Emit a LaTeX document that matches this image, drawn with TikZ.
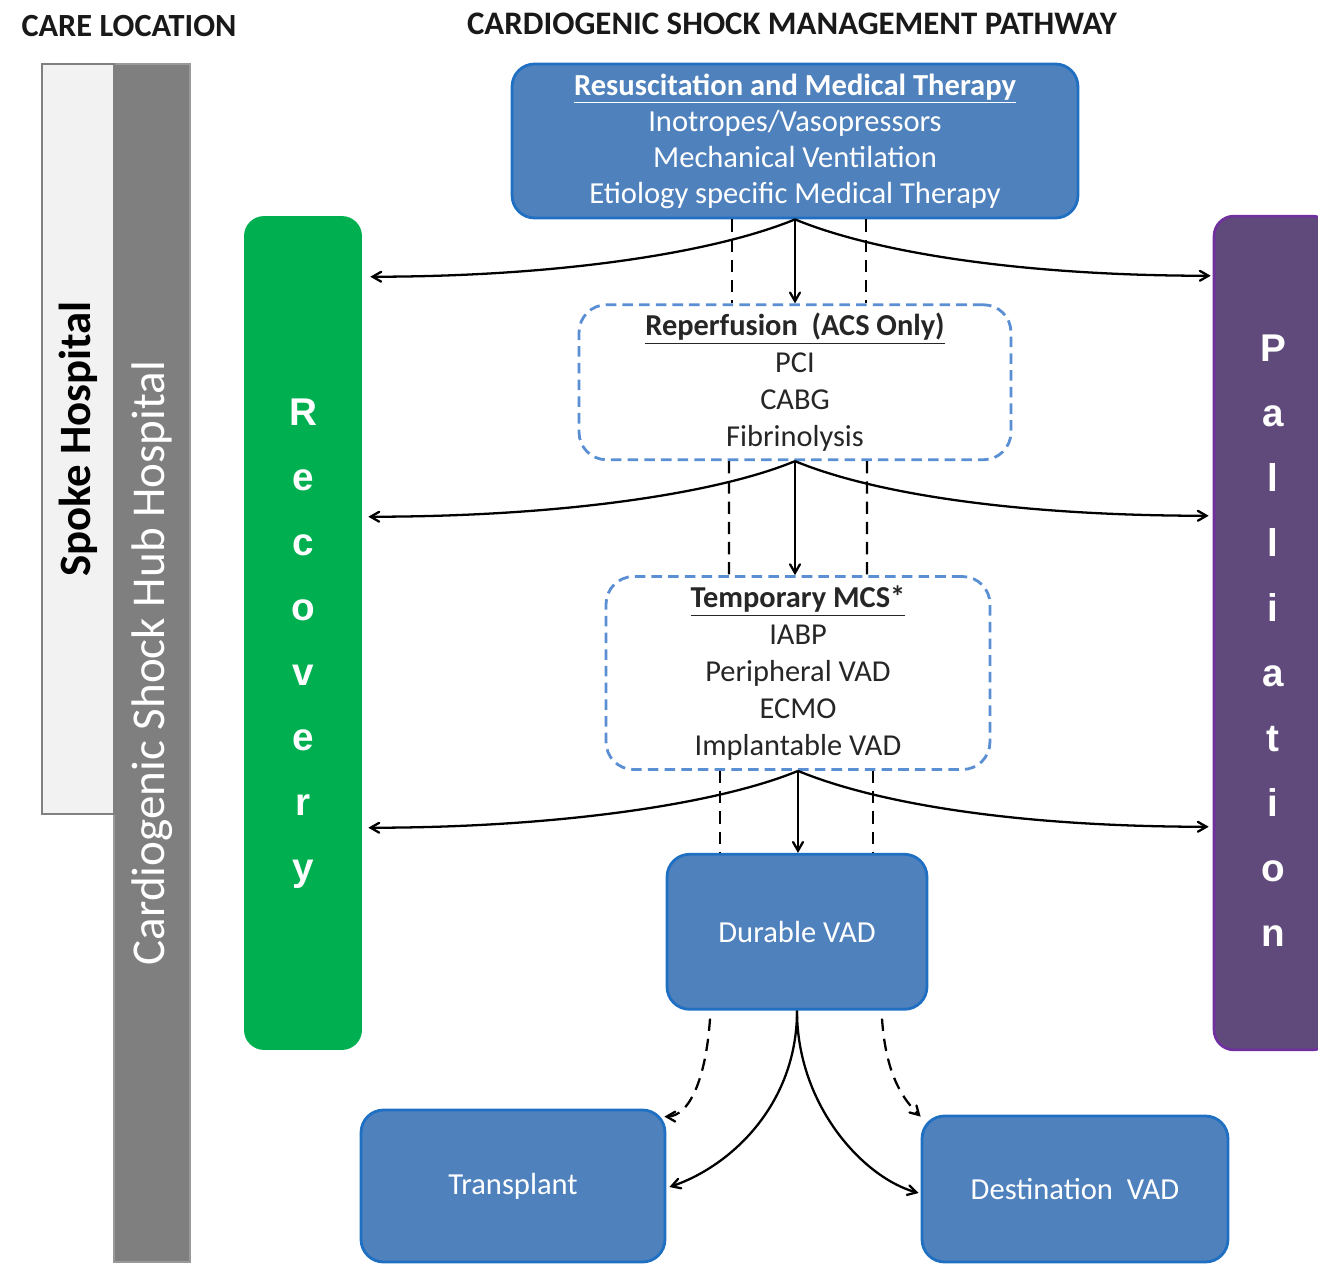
\documentclass[tikz,border=0pt]{standalone}
\usepackage{fontspec}
\setmainfont{Carlito}
\newfontfamily\arialfont{Liberation Sans}
\usepackage{tikz}
\usetikzlibrary{shapes,arrows,calc,positioning}
\definecolor{boxblue}{HTML}{4F81BD}
\definecolor{boxedge}{HTML}{1F6FC2}
\definecolor{dashblue}{HTML}{5B8FD3}
\definecolor{recgreen}{HTML}{00B050}
\definecolor{palpurple}{HTML}{604A7B}
\definecolor{paledge}{HTML}{7030A0}
\definecolor{hubgray}{HTML}{7F7F7F}
\definecolor{spokegray}{HTML}{F2F2F2}
\definecolor{bargray}{HTML}{999999}
\definecolor{darktext}{HTML}{262626}
\tikzstyle{solidbox} = [rectangle, rounded corners=0.45cm, draw=boxedge, line width=1.6pt,
fill=boxblue, text=white, align=center, font=\fontsize{17.4}{20.5}\selectfont]
\tikzstyle{dashbox} = [rectangle, rounded corners=0.55cm, draw=dashblue, line width=1.6pt,
dash pattern=on 6pt off 3.5pt, fill=white, text=darktext, align=center, font=\fontsize{17.3}{21}\selectfont]
\tikzstyle{outcome} = [rectangle, rounded corners=0.4cm, minimum width=2.36cm, minimum height=16.68cm,
text=white, align=center, font=\arialfont\bfseries\fontsize{22}{37}\selectfont]
\tikzstyle{locbar} = [rectangle, rotate=90, line width=1.5pt]
\tikzstyle{heading} = [font=\bfseries\fontsize{18.4}{20}\selectfont, text=black!90]
\tikzstyle{line} = [draw, line width=1.3pt, -angle 60]
\tikzstyle{guide} = [draw, line width=1.3pt, dash pattern=on 7pt off 4.5pt]
\begin{document}
\begin{tikzpicture}[x=0.02cm, y=-0.02cm]
\clip (0,0) rectangle (1318,1264);

% care location bars
\node [locbar, fill=hubgray, draw=bargray, minimum width=23.96cm, minimum height=1.52cm,
text=white, font=\fontsize{26.8}{28}\selectfont] (hub) at (152,663) {Cardiogenic Shock Hub Hospital};
\node [locbar, fill=spokegray, draw=gray, minimum width=15cm, minimum height=1.44cm,
text=black, font=\bfseries\fontsize{25.5}{27}\selectfont] (spoke) at (78,439) {Spoke Hospital};

\node [heading] (carelabel) at (129,26) {CARE LOCATION};
\node [heading, font=\bfseries\fontsize{18.7}{20}\selectfont] (pathlabel) at (792,24) {CARDIOGENIC SHOCK MANAGEMENT PATHWAY};

% pathway
\node [solidbox, minimum width=11.32cm, minimum height=3.08cm] (resus) at (795,141)
{\underline{\textbf{Resuscitation and Medical Therapy}}\\Inotropes/Vasopressors\\Mechanical Ventilation\\Etiology specific Medical Therapy};
\node [dashbox, minimum width=8.64cm, minimum height=3.1cm, below=1.68cm of resus] (reperf)
{\underline{\textbf{Reperfusion\ \ (ACS Only)}}\\PCI\\CABG\\Fibrinolysis};
\node [dashbox, minimum width=7.68cm, minimum height=3.86cm, below=2.28cm of reperf, xshift=0.06cm] (tmcs)
{\underline{\textbf{Temporary MCS*}}\\IABP\\Peripheral VAD\\ECMO\\Implantable VAD};
\node [solidbox, minimum width=5.2cm, minimum height=3.1cm, below=1.64cm of tmcs, xshift=-0.02cm] (durable) {Durable VAD};
\node [solidbox, minimum width=6.08cm, minimum height=3.04cm] (transplant) at (513,1186) {Transplant};
\node [solidbox, minimum width=6.12cm, minimum height=2.92cm] (destvad) at (1075,1189) {Destination\ \ VAD};

% outcomes
\node [outcome, fill=recgreen] (recovery) at (303,633) {\rule{0pt}{0.95cm}R\\e\\c\\o\\v\\e\\r\\y};
\node [outcome, fill=palpurple, draw=paledge, line width=1.5pt] (palliation) at (1273,633) {\rule{0pt}{0.83cm}P\\a\\l\\l\\i\\a\\t\\i\\o\\n};

% connectors
\path [guide] ($(resus.south)+(-63,0)$) -- ($(reperf.north)+(-63,0)$);
\path [guide] ($(resus.south)+(71,0)$) -- ($(reperf.north)+(71,0)$);
\path [line] (resus.south) -- (resus.south |- reperf.north);
\path [line] (resus.south) .. controls +(-80,33) and +(190,0) .. ($(recovery.north east)+(8,61)$);
\path [line] (resus.south) .. controls +(80,33) and +(-190,0) .. ($(palliation.north west)+(-2,61)$);

\path [guide] ($(reperf.south)+(-66,0)$) -- ($(tmcs.north)+(-69,0)$);
\path [guide] ($(reperf.south)+(72,0)$) -- ($(tmcs.north)+(69,0)$);
\path [line] (reperf.south) -- (reperf.south |- tmcs.north);
\path [line] (reperf.south) .. controls +(-80,33) and +(190,0) .. ($(recovery.north east)+(6,301)$);
\path [line] (reperf.south) .. controls +(80,33) and +(-190,0) .. ($(palliation.north west)+(-4,301)$);

\path [guide] ($(tmcs.south)+(-78,0)$) -- ($(durable.north)+(-77,0)$);
\path [guide] ($(tmcs.south)+(75,0)$) -- ($(durable.north)+(76,0)$);
\path [line] (tmcs.south) -- (tmcs.south |- durable.north);
\path [line] (tmcs.south) .. controls +(-80,33) and +(190,0) .. ($(recovery.north east)+(6,612)$);
\path [line] (tmcs.south) .. controls +(80,33) and +(-190,0) .. ($(palliation.north west)+(-4,612)$);

\path [line] (durable.south) .. controls +(0,95) and +(60,-20) .. ($(transplant.east)+(3,1)$);
\path [line] (durable.south) .. controls +(0,95) and +(-55,-15) .. ($(destvad.west)+(-2,4)$);
\path [guide, -angle 60] ($(durable.south)+(-87,8)$) .. controls +(-4,60) and +(25,0) .. ($(transplant.north east)+(-2,8)$);
\path [guide, -angle 60] ($(durable.south)+(85,8)$) .. controls +(4,60) and +(-15,-15) .. ($(destvad.north west)+(0,2)$);
\end{tikzpicture}
\end{document}
